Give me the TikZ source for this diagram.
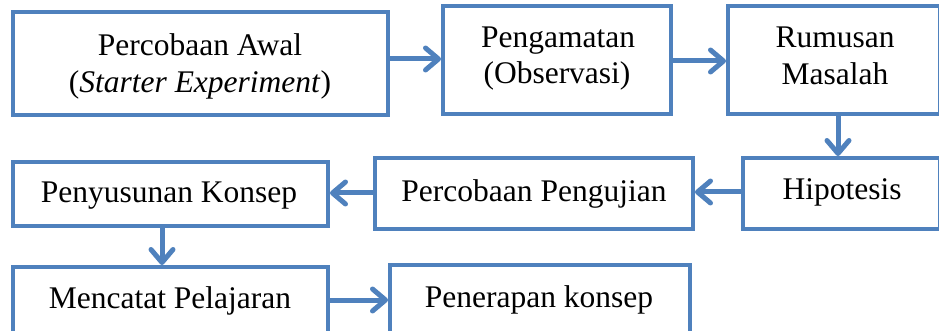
\documentclass[tikz,border=0pt]{standalone}
\usepackage{fontspec}
\setmainfont{Liberation Serif}
\usetikzlibrary{arrows.meta}
\definecolor{boxblue}{RGB}{79,129,189}
\begin{document}
\begin{tikzpicture}[x=1pt,y=-1pt,
  stepbox/.style={draw=boxblue, line width=4pt, rectangle, inner sep=0pt, fill=white},
  lbl/.style={inner sep=0pt, anchor=base, font=\fontsize{31.5}{37}\selectfont, text=black},
  conn/.style={draw=boxblue, line width=5pt, -{Straight Barb[length=13pt,width=22pt,round]}}]
\useasboundingbox (0,0) rectangle (939,331);
\clip (0,0) rectangle (939,331);
% boxes (line centres)
\node[stepbox, minimum width=375pt, minimum height=103pt] (b1) at (200.5,63.5) {};
\node[stepbox, minimum width=228pt, minimum height=108pt] (b2) at (557,60) {};
\node[stepbox, minimum width=212pt, minimum height=108pt] (b3) at (834,60) {};
\node[stepbox, minimum width=197pt, minimum height=71pt] (b4) at (841.5,193.5) {};
\node[stepbox, minimum width=318pt, minimum height=71pt] (b5) at (534,193.5) {};
\node[stepbox, minimum width=315pt, minimum height=64pt] (b6) at (170.5,194) {};
\node[stepbox, minimum width=315pt, minimum height=85pt] (b7) at (170.5,309.5) {};
\node[stepbox, minimum width=300pt, minimum height=87pt] (b8) at (540,308.5) {};
% labels
\node[lbl] (t1a) at (200,56) {Percobaan Awal};
\node[lbl] (t1b) at (200,93) {(\textit{Starter Experiment})};
\node[lbl] (t2a) at (558,48) {Pengamatan};
\node[lbl] (t2b) at (557,84) {(Observasi)};
\node[lbl] (t3a) at (835,48) {Rumusan};
\node[lbl] (t3b) at (835,85) {Masalah};
\node[lbl] (t4) at (842,200) {Hipotesis};
\node[lbl] (t5) at (534,201) {Percobaan Pengujian};
\node[lbl] (t6) at (169,203) {Penyusunan Konsep};
\node[lbl] (t7) at (170,308) {Mencatat Pelajaran};
\node[lbl] (t8) at (539,307) {Penerapan konsep};
% connectors
\draw[conn] (b1.east |- 0,59) -- (b2.west |- 0,59);
\draw[conn] (b2.east |- 0,61) -- (b3.west |- 0,61);
\draw[conn] (b3.south -| 838,0) -- (b4.north -| 838,0);
\draw[conn] (b4.west |- 0,192) -- (b5.east |- 0,192);
\draw[conn] (b5.west |- 0,193) -- (b6.east |- 0,193);
\draw[conn] (b6.south -| 162,0) -- (b7.north -| 162,0);
\draw[conn] (b7.east |- 0,300) -- (b8.west |- 0,300);
\end{tikzpicture}
\end{document}
